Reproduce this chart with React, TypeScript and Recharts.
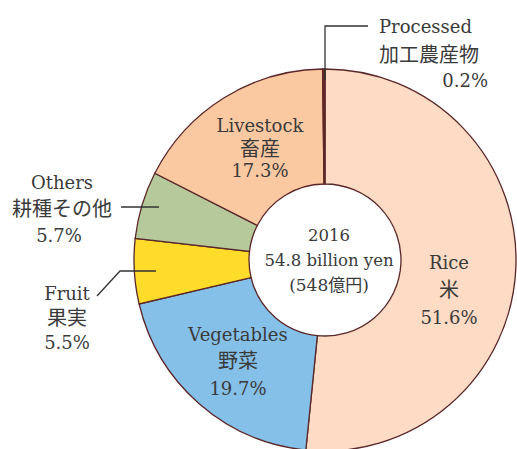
import { PieChart, Pie, Cell } from 'recharts';

const categories = ['Rice', 'Vegetables', 'Fruit', 'Others', 'Livestock', 'Processed'];
const jpNames = ['米', '野菜', '果実', '耕種その他', '畜産', '加工農産物'];
const shares = [51.6, 19.7, 5.5, 5.7, 17.3, 0.2];
const colors = ['#fddbc5', '#85c0e8', '#ffdc2a', '#b6c99b', '#fbc9a1', '#6e2b24'];
const centerLines = ['2016', '54.8 billion yen', '(548億円)'];

const data = categories.map((name, i) => ({ name, jp: jpNames[i], value: shares[i] }));

const FONT = "'DejaVu Serif', 'Noto Sans CJK JP', serif";
const INK = '#3a3a3a';

// label layout per slice: offsets from the pie centre, one per text line
const labelLayout: Record<string, { x: number[]; y: number[]; anchor: string[] }> = {
  Rice: { x: [124, 124, 124], y: [2, 30, 57], anchor: ['middle', 'middle', 'middle'] },
  Vegetables: { x: [-87, -87, -87], y: [74, 101, 128], anchor: ['middle', 'middle', 'middle'] },
  Fruit: { x: [-258, -258, -258], y: [33, 58, 82], anchor: ['middle', 'middle', 'middle'] },
  Others: { x: [-263, -263, -266], y: [-78, -51, -25], anchor: ['middle', 'middle', 'middle'] },
  Livestock: { x: [-65, -65, -65], y: [-135, -111, -90], anchor: ['middle', 'middle', 'middle'] },
  Processed: { x: [54, 54, 163], y: [-234, -205, -180], anchor: ['start', 'start', 'end'] },
};

const leaders: Record<string, string> = {
  Processed: '0,-180 0,-234 43,-234',
  Others: '-204,-53 -166,-53',
  Fruit: '-228,36 -205,11 -169,11',
};

function SliceLabel(props: any) {
  const { cx, cy, index, name, value } = props;
  const lay = labelLayout[name];
  const lines = [name, jpNames[categories.indexOf(name)], `${value.toFixed(1)}%`];
  return (
    <g>
      {index === 0 &&
        centerLines.map((t, k) => (
          <text
            key={'c' + k}
            x={cx + 4}
            y={cy - 25 + k * 25}
            textAnchor="middle"
            dominantBaseline="central"
            style={{ fontFamily: FONT, fontSize: k === 2 ? 17 : 16.5 }}
            fill={INK}
          >
            {t}
          </text>
        ))}
      {leaders[name] && (
        <polyline
          points={leaders[name]
            .split(' ')
            .map((p) => {
              const [a, b] = p.split(',').map(Number);
              return `${cx + a},${cy + b}`;
            })
            .join(' ')}
          fill="none"
          stroke="#333"
          strokeWidth={1.3}
        />
      )}
      {lines.map((t, k) => (
        <text
          key={k}
          x={cx + lay.x[k]}
          y={cy + lay.y[k]}
          textAnchor={lay.anchor[k] as any}
          dominantBaseline="central"
          style={{ fontFamily: FONT, fontSize: k === 1 ? 20 : 18 }}
          fill={INK}
        >
          {t}
        </text>
      ))}
    </g>
  );
}

export default function App() {
  return (
    <div style={{ position: 'absolute', left: 0, top: 0, width: 517, height: 449, background: '#fff', fontFamily: FONT }}>
      <PieChart width={517} height={449} margin={{ top: 0, right: 0, bottom: 0, left: 0 }}>
        <Pie
          data={data}
          dataKey="value"
          nameKey="name"
          cx={325}
          cy={260}
          innerRadius={76}
          outerRadius={191}
          startAngle={90}
          endAngle={-270}
          stroke="#5a2628"
          strokeWidth={1.3}
          label={SliceLabel}
          labelLine={false}
          isAnimationActive={false}
        >
          {data.map((d, i) => (
            <Cell key={d.name} fill={colors[i]} />
          ))}
        </Pie>
      </PieChart>
    </div>
  );
}
